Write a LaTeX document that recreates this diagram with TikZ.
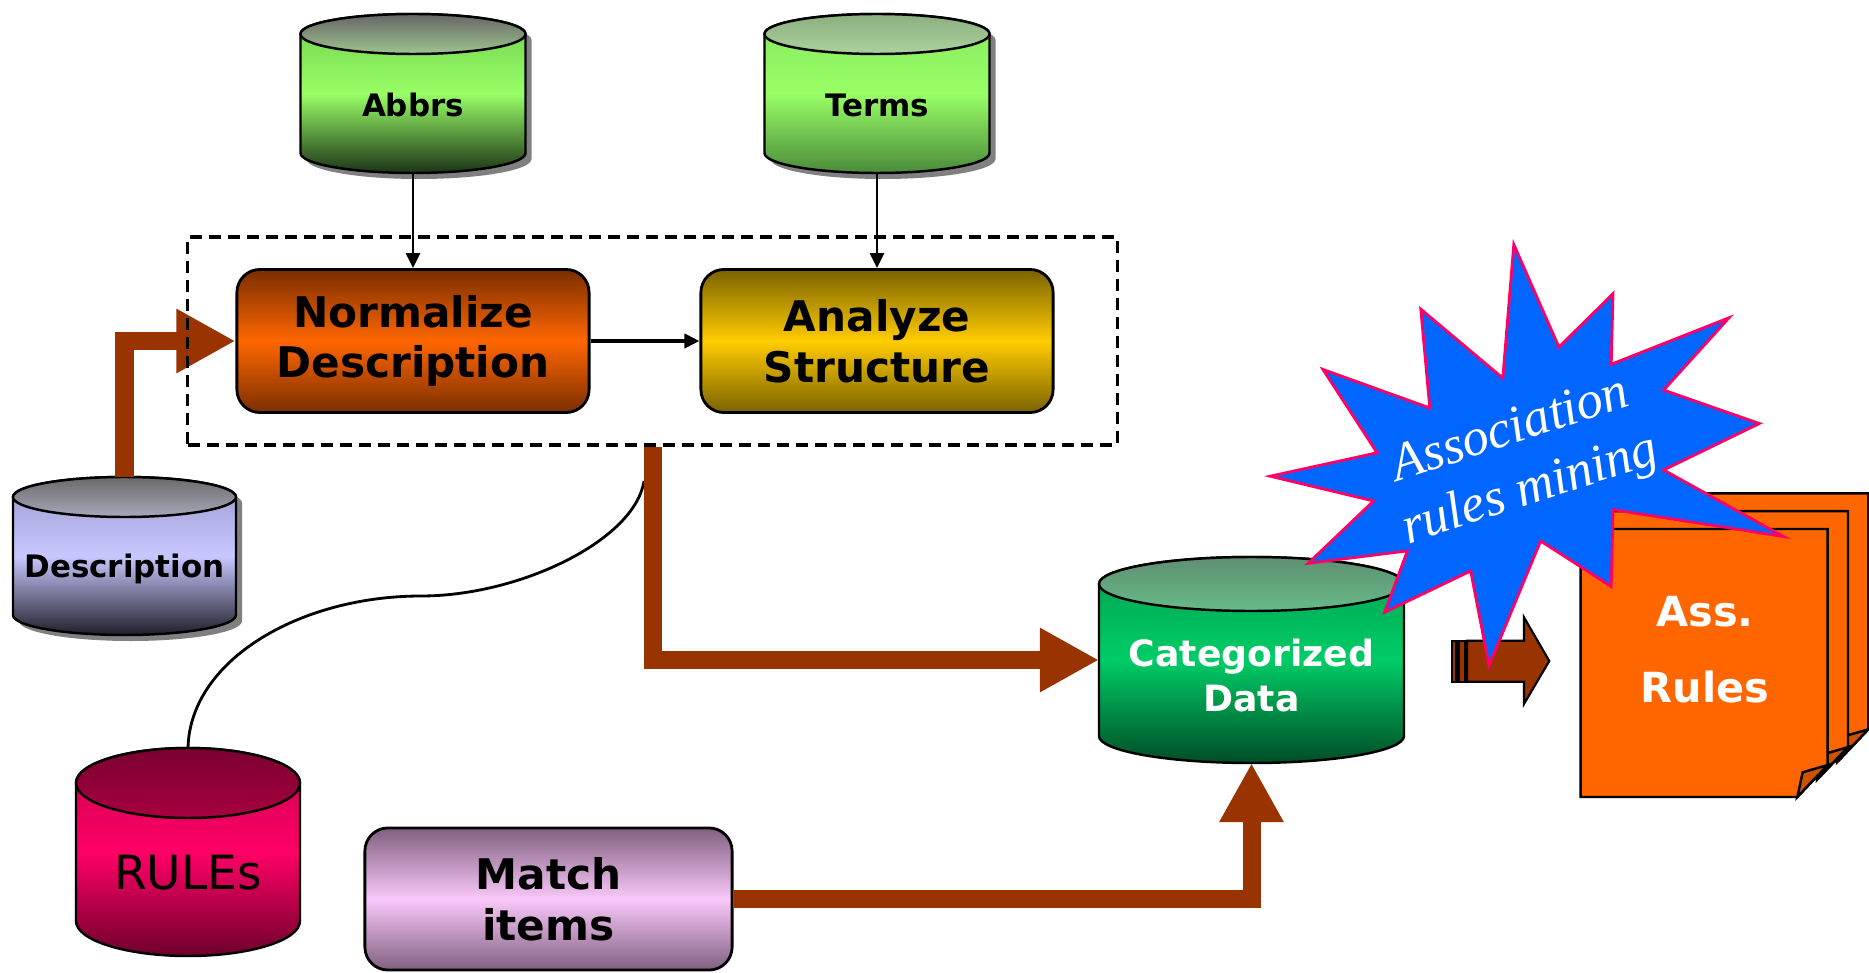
\documentclass[tikz,border=0pt]{standalone}
\usepackage{fontspec}
\setmainfont{DejaVu Sans}
\newfontfamily\handfont{Liberation Serif}
\usetikzlibrary{arrows.meta,shadows}

\definecolor{rust}{HTML}{993300}
\definecolor{burst}{HTML}{0066FF}
\definecolor{burstedge}{HTML}{FF0066}
\definecolor{sheet}{HTML}{FF6600}
\definecolor{sheetfold}{HTML}{CC5200}
\definecolor{normdark}{HTML}{7A2E00}
\definecolor{anlzdark}{HTML}{7A6200}
\definecolor{anlzmid}{HTML}{FFCC00}
\definecolor{matchdark}{HTML}{806080}
\definecolor{matchmid}{HTML}{F9C8F9}

% database drum: name, x, y top, y bottom, half width, lid radius, colour set
\newcommand{\drum}[7]{%
  \shade[#7 body] ({#2-#5},{#3-#6}) -- ({#2-#5},{#4+#6})
    arc[start angle=180,end angle=360,x radius=#5,y radius=#6]
    -- ({#2+#5},{#3-#6})
    arc[start angle=0,end angle=180,x radius=#5,y radius=#6] -- cycle;
  \shade[#7 lid] (#2,{#3-#6}) ellipse[x radius=#5,y radius=#6];
  \node[inner sep=0pt,outer sep=0pt,minimum width={2*#5*0.01cm},
        minimum height={(#3-(#4))*0.01cm}] (#1) at (#2,{(#3+#4)/2}) {};
}

\begin{document}
\begin{tikzpicture}[x=0.01cm,y=0.01cm,
    drumline/.style={draw,line width=0.7pt},
    dbshadow/.style={drop shadow={shadow xshift=0.06cm,shadow yshift=-0.06cm,opacity=1,fill=black!50}},
    abbrs body/.style={drumline,dbshadow,top color={rgb,255:red,111;green,207;blue,79},
        bottom color={rgb,255:red,28;green,51;blue,23},middle color={rgb,255:red,153;green,255;blue,102}},
    abbrs lid/.style={drumline,top color={rgb,255:red,102;green,102;blue,102},
        bottom color={rgb,255:red,159;green,196;blue,143}},
    terms body/.style={drumline,dbshadow,top color={rgb,255:red,133;green,232;blue,95},
        bottom color={rgb,255:red,74;green,138;blue,58},middle color={rgb,255:red,153;green,255;blue,102}},
    terms lid/.style={drumline,top color={rgb,255:red,140;green,174;blue,128},
        bottom color={rgb,255:red,171;green,211;blue,157}},
    desc body/.style={drumline,dbshadow,top color={rgb,255:red,154;green,154;blue,208},
        bottom color={rgb,255:red,30;green,30;blue,42},middle color={rgb,255:red,200;green,200;blue,255}},
    desc lid/.style={drumline,top color={rgb,255:red,106;green,106;blue,106},
        bottom color={rgb,255:red,168;green,168;blue,188}},
    rules body/.style={drumline,top color={rgb,255:red,200;green,0;blue,79},
        bottom color={rgb,255:red,110;green,0;blue,43},middle color={rgb,255:red,255;green,0;blue,102}},
    rules lid/.style={drumline,top color={rgb,255:red,122;green,0;blue,48},
        bottom color={rgb,255:red,168;green,0;blue,63}},
    cat body/.style={drumline,top color={rgb,255:red,0;green,160;blue,80},
        bottom color={rgb,255:red,0;green,77;blue,38},middle color={rgb,255:red,0;green,204;blue,102}},
    cat lid/.style={drumline,top color={rgb,255:red,95;green,143;blue,114},
        bottom color={rgb,255:red,102;green,187;blue,136}},
    dblabel/.style={font=\fontsize{8.8}{10.5}\selectfont\bfseries},
    procbox/.style={draw,line width=0.8pt,rounded corners=0.23cm,minimum width=3.52cm,
        minimum height=1.43cm,align=center,font=\fontsize{12}{14.4}\selectfont\bfseries},
    stagebox/.style={draw,line width=0.9pt,dash pattern=on 0.12cm off 0.07cm,
        minimum width=9.29cm,minimum height=2.08cm},
    feed/.style={draw,line width=0.8pt,-{Triangle[length=0.15cm,width=0.14cm]}},
    flow/.style={draw=rust,line width=0.18cm,-{Triangle[length=0.59cm,width=0.6cm]}},
    paper/.style={draw,line width=0.7pt,fill=sheet},
    paperfold/.style={draw,line width=0.7pt,fill=sheetfold},
    burststyle/.style={draw=burstedge,line width=0.8pt,fill=burst,line join=miter}
]
\useasboundingbox (0,0) rectangle (1869,-973);

% data stores
\drum{abbrs}{413}{-14}{-173}{112.5}{20}{abbrs}
\drum{terms}{877}{-14}{-173}{112.5}{20}{terms}
\drum{desc}{124.5}{-477}{-635}{111.5}{20}{desc}
\drum{rules}{188}{-748}{-956}{112}{35}{rules}
\drum{catdata}{1251.5}{-557}{-763}{152.5}{27}{cat}

\node[dblabel] (abbrs-t) at (413,-105) {Abbrs};
\node[dblabel] (terms-t) at (877,-105) {Terms};
\node[dblabel] (desc-t) at (124.5,-569) {Description};
\node[font=\fontsize{13.4}{16}\selectfont] (rules-t) at (188,-873) {RULEs};
\node[align=center,text=white,font=\fontsize{10.3}{12.8}\selectfont\bfseries] (catdata-t)
    at (1251.5,-675) {Categorized\\Data};

% process steps
\node[procbox,top color=normdark,bottom color=normdark,middle color=sheet] (norm)
    at (413,-341) {Normalize\\Description};
\node[procbox,top color=anlzdark,bottom color=anlzdark,middle color=anlzmid] (anlz)
    at (877,-341) {Analyze\\Structure};
\node[procbox,minimum width=3.67cm,minimum height=1.42cm,top color=matchdark,
    bottom color=matchdark,middle color=matchmid] (match)
    at (548.5,-899) {Match\\items};

% link to the rule base
\coordinate (tap) at (644,-481);
\draw[line width=0.8pt] (tap) .. controls (635,-540) and (520,-596) .. (421,-596)
    .. controls (300,-596) and (190,-660) .. (rules.north);

% main data flow
\draw[flow] (desc.north) |- (norm.west);
\node[stagebox] (stage) at (652.5,-341) {};
\draw[flow] (stage.south) |- (catdata.west);
\draw[flow] (match.east) -| (catdata.south);

\draw[feed] (abbrs.south) -- (norm.north);
\draw[feed] (terms.south) -- (anlz.north);
\draw[feed,line width=1.1pt] (norm.east) -- (anlz.west);

% striped block arrow
\filldraw[fill=rust,line width=0.6pt] (1451.7,-640.7) rectangle (1456.5,-681.7);
\filldraw[fill=rust,line width=0.6pt] (1458.5,-640.7) rectangle (1465.5,-681.7);
\filldraw[fill=rust,line width=0.6pt] (1467,-640.7) -- (1524,-640.7) -- (1524,-617.3)
    -- (1549.3,-661) -- (1524,-704) -- (1524,-681.7) -- (1467,-681.7) -- cycle;

% stacked result sheets
\foreach \dx/\dy in {40.6/35.7,20.3/17.9,0/0}{
  \begin{scope}[shift={({1580.7+\dx},{-529+\dy})}]
    \draw[paper] (0,0) -- (247,0) -- (247,-236) -- (216.6,-268) -- (0,-268) -- cycle;
    \draw[paperfold] (247,-236) -- (222,-243.3) -- (216.6,-268) -- cycle;
  \end{scope}
}
\node[align=center,text=white,font=\fontsize{11.8}{21.7}\selectfont\bfseries] (assrules)
    at (1705,-650) {Ass.\\Rules};

% mining burst
\draw[burststyle] (1513.8,-244.5) -- (1558.9,-347.1) -- (1613.0,-293.7) -- (1611.2,-364.3)
    -- (1729.0,-317.8) -- (1663.6,-390.1) -- (1759.3,-423.5) -- (1663.6,-470.0)
    -- (1783.4,-536.5) -- (1613.0,-509.6) -- (1611.2,-586.4) -- (1540.6,-541.0)
    -- (1489.0,-665.6) -- (1470.7,-570.9) -- (1384.7,-612.2) -- (1407.4,-550.9)
    -- (1308.2,-563.3) -- (1373.6,-501.0) -- (1270.3,-476.2) -- (1377.1,-452.8)
    -- (1323.0,-369.5) -- (1429.8,-408.0) -- (1420.8,-309.2) -- (1502.8,-378.1) -- cycle;
\node[rotate=18,align=center,text=white,font=\handfont\itshape\fontsize{15}{17.8}\selectfont]
    (mining) at (1521,-462) {Association\\rules mining};
\end{tikzpicture}
\end{document}
